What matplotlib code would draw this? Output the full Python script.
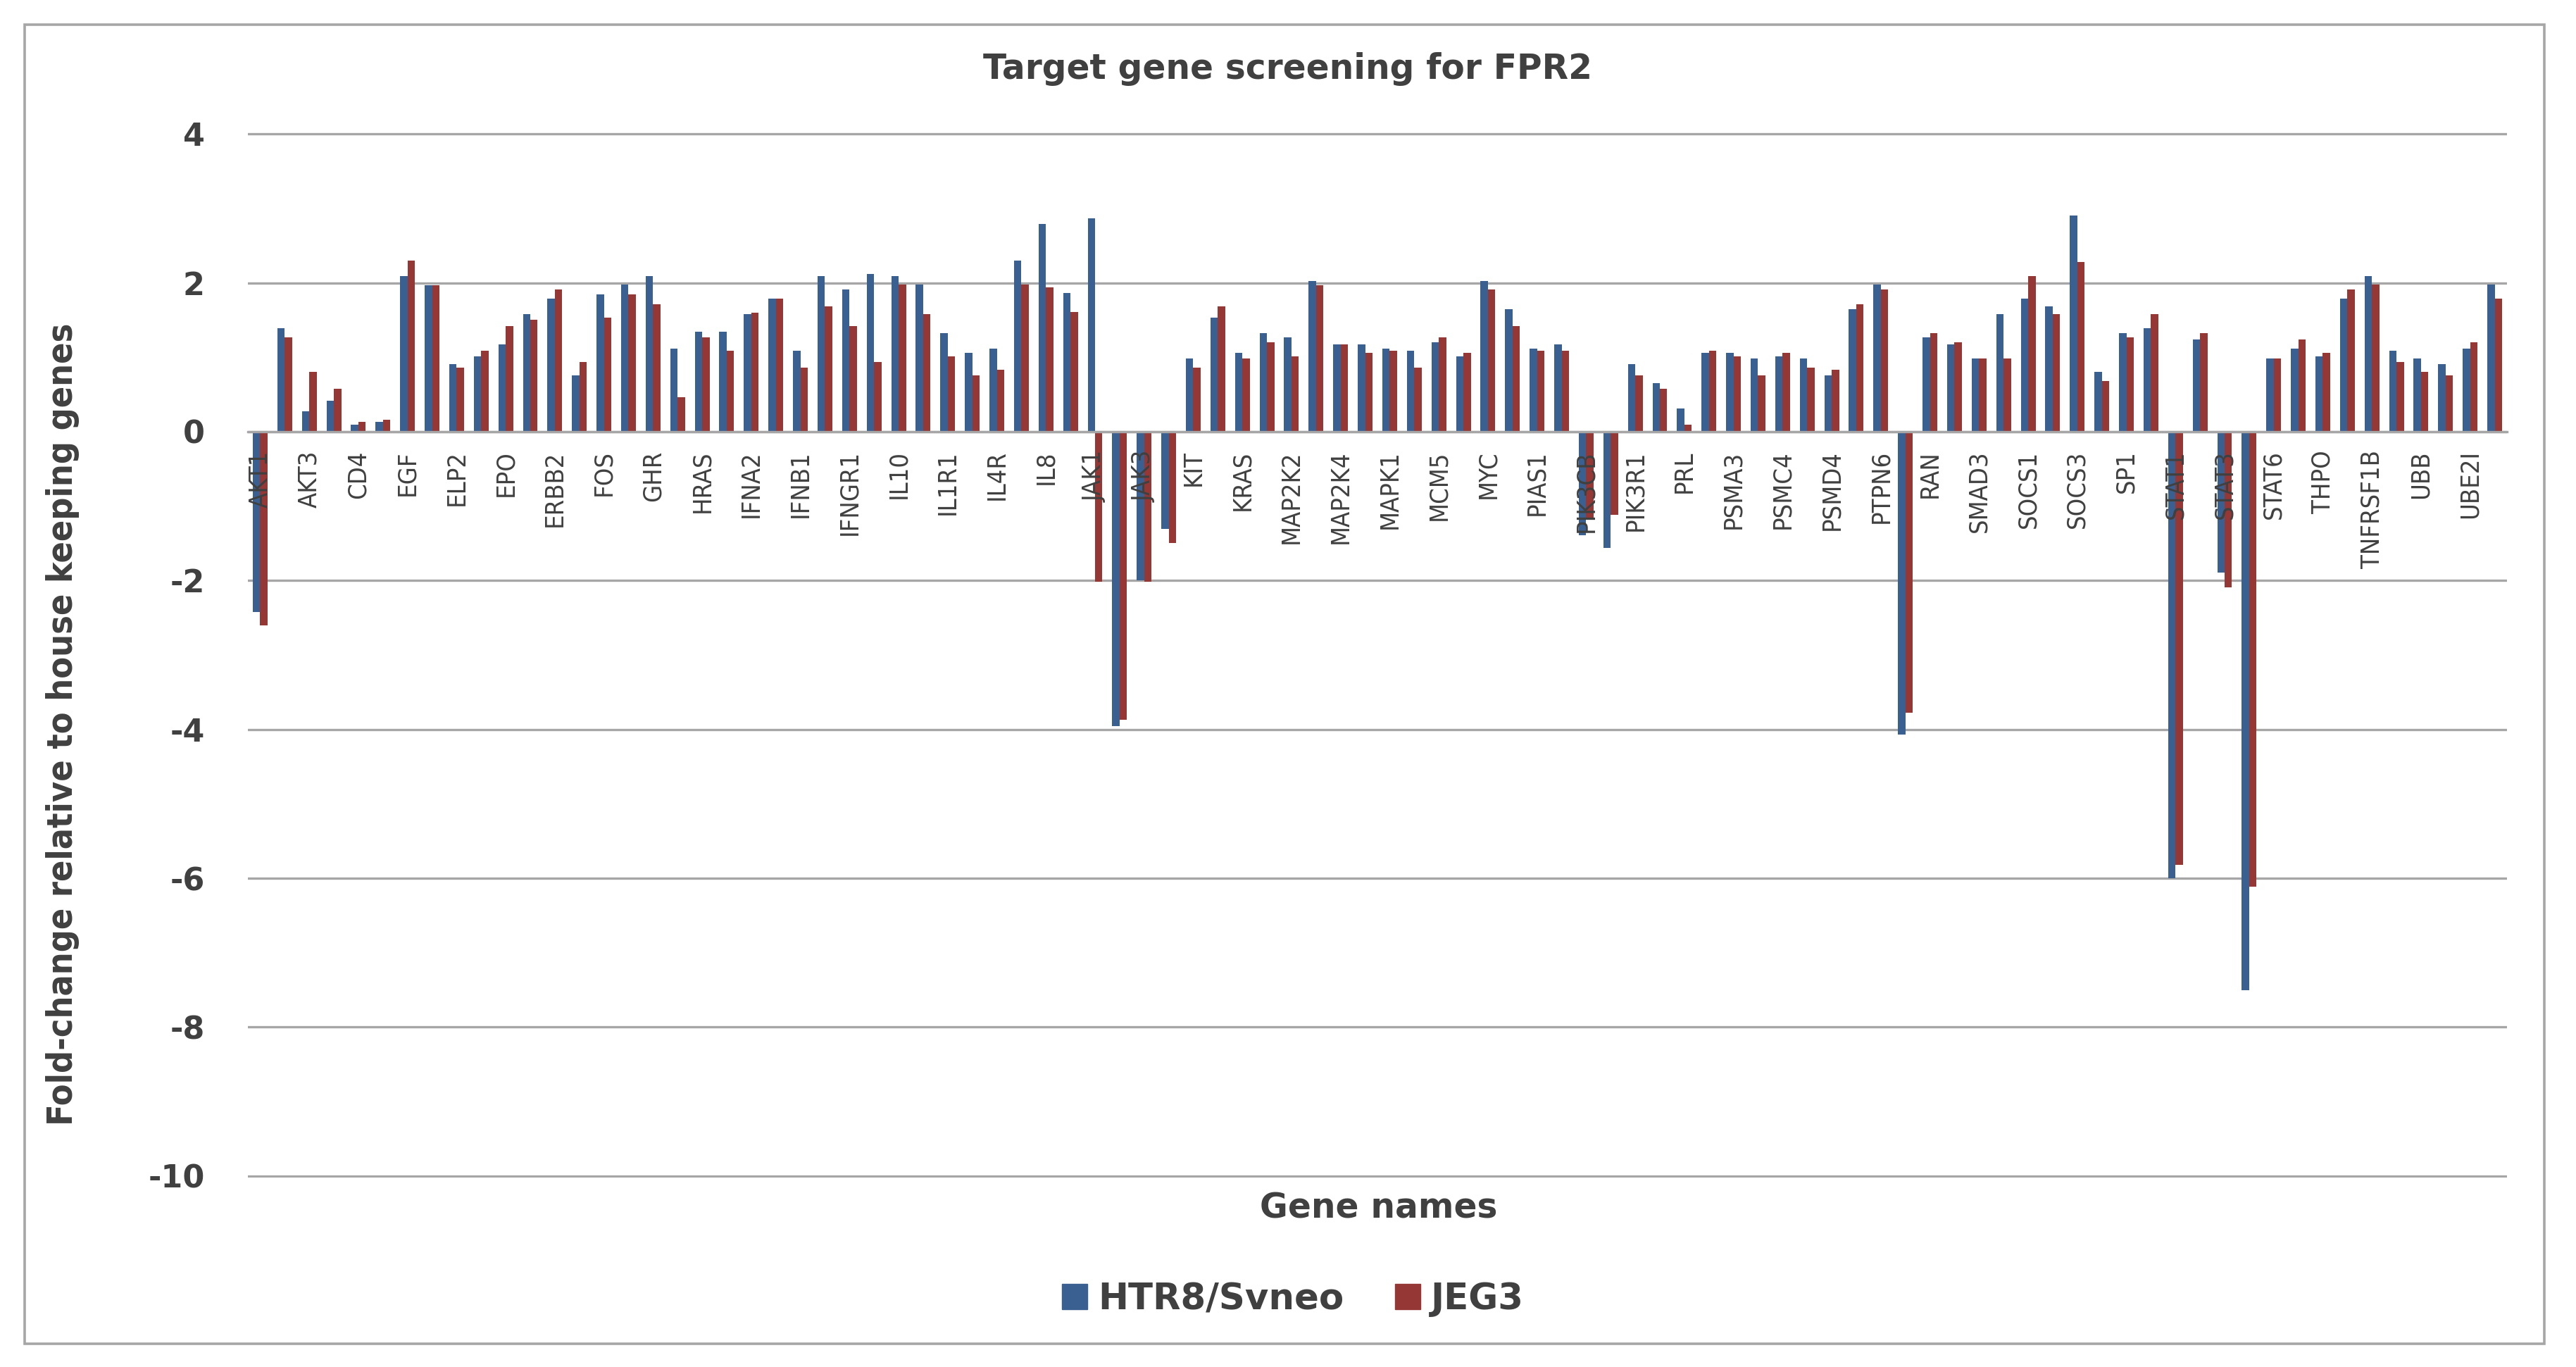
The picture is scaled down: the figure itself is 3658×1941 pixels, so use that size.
import matplotlib
matplotlib.use('Agg')
import matplotlib.pyplot as plt
from matplotlib.patches import Rectangle, Patch
import numpy as np

genes = ['AKT1', 'AKT2', 'AKT3', 'BCL2L1', 'CD4', 'CRKL', 'EGF', 'EGFR', 'ELP2', 'EP300',
         'EPO', 'EPOR', 'ERBB2', 'FGFR1', 'FOS', 'GH1', 'GHR', 'GRB2', 'HRAS', 'IFNA1',
         'IFNA2', 'IFNAR1', 'IFNB1', 'IFNG', 'IFNGR1', 'IFNGR2', 'IL10', 'IL10RA', 'IL1R1', 'IL2RG',
         'IL4R', 'IL6ST', 'IL8', 'IRF1', 'JAK1', 'JAK2', 'JAK3', 'JUNB', 'KIT', 'KITLG',
         'KRAS', 'MAP2K1', 'MAP2K2', 'MAP2K3', 'MAP2K4', 'MAP3K1', 'MAPK1', 'MAPK3', 'MCM5', 'MPL',
         'MYC', 'NFKB1', 'PIAS1', 'PIK3CA', 'PIK3CB', 'PIK3CD', 'PIK3R1', 'PPP2CA', 'PRL', 'PSMA1',
         'PSMA3', 'PSMB5', 'PSMC4', 'PSMD2', 'PSMD4', 'PTPN11', 'PTPN6', 'PTPRC', 'RAN', 'SH2B1',
         'SMAD3', 'SMAD4', 'SOCS1', 'SOCS2', 'SOCS3', 'SOCS4', 'SP1', 'SRC', 'STAT1', 'STAT2',
         'STAT3', 'STAT5A', 'STAT6', 'TGFB1', 'THPO', 'TNFRSF1A', 'TNFRSF1B', 'TYK2', 'UBB', 'UBC',
         'UBE2I', 'YWHAZ']

htr8 = [-2.42, 1.39, 0.27, 0.42, 0.09, 0.13, 2.09, 1.97, 0.91, 1.01,
        1.17, 1.58, 1.79, 0.76, 1.84, 1.98, 2.09, 1.12, 1.34, 1.34,
        1.58, 1.79, 1.09, 2.09, 1.91, 2.12, 2.09, 1.98, 1.32, 1.06,
        1.12, 2.30, 2.79, 1.86, 2.87, -3.96, -2.00, -1.31, 0.98, 1.53,
        1.06, 1.32, 1.27, 2.02, 1.17, 1.17, 1.12, 1.09, 1.20, 1.01,
        2.02, 1.65, 1.12, 1.17, -1.39, -1.56, 0.91, 0.65, 0.31, 1.06,
        1.06, 0.98, 1.01, 0.98, 0.76, 1.65, 1.98, -4.07, 1.27, 1.17,
        0.98, 1.58, 1.79, 1.68, 2.90, 0.80, 1.32, 1.39, -6.00, 1.24,
        -1.89, -7.50, 0.98, 1.12, 1.01, 1.79, 2.09, 1.09, 0.98, 0.91,
        1.12, 1.98]

jeg3 = [-2.60, 1.27, 0.80, 0.58, 0.13, 0.16, 2.30, 1.97, 0.86, 1.09,
        1.42, 1.50, 1.91, 0.94, 1.53, 1.84, 1.71, 0.46, 1.27, 1.09,
        1.60, 1.79, 0.86, 1.68, 1.42, 0.94, 1.98, 1.58, 1.01, 0.76,
        0.83, 1.98, 1.94, 1.61, -2.02, -3.87, -2.02, -1.50, 0.86, 1.68,
        0.98, 1.20, 1.01, 1.97, 1.17, 1.06, 1.09, 0.86, 1.27, 1.06,
        1.91, 1.42, 1.09, 1.09, -1.17, -1.12, 0.76, 0.58, 0.09, 1.09,
        1.01, 0.76, 1.06, 0.86, 0.83, 1.71, 1.91, -3.78, 1.32, 1.20,
        0.98, 0.98, 2.09, 1.58, 2.28, 0.68, 1.27, 1.58, -5.82, 1.32,
        -2.09, -6.11, 0.98, 1.24, 1.06, 1.91, 1.98, 0.94, 0.80, 0.76,
        1.20, 1.79]

series_names = ['HTR8/Svneo', 'JEG3']
yticks = [4, 2, 0, -2, -4, -6, -8, -10]

blue  = '#3A5F91'
red   = '#953735'
grey  = '#A6A6A6'
text  = '#404040'

W, H = 3658, 1941
###############################################################################
# Figure
###############################################################################
fig = plt.figure(figsize=(W/100, H/100), dpi=100)
ax = fig.add_axes([352/W, 1-1672/H, 3208/W, 1484/H])

# gridlines under the bars
for t in yticks:
    ax.axhline(t, color=grey, lw=2.4, zorder=1)

x = np.arange(len(genes))
w = 0.3
ax.bar(x - w/2, htr8, w, color=blue, zorder=2)
ax.bar(x + w/2, jeg3, w, color=red, zorder=2)

ax.set_xlim(-0.5, len(genes) - 0.5)
ax.set_ylim(-10.02, 4.02)
ax.set_yticks(yticks)
ax.set_yticklabels([str(t) for t in yticks], fontsize=32, fontweight='bold', color=text)

for s in ['left', 'right', 'top']:
    ax.spines[s].set_visible(False)
ax.spines['bottom'].set_position(('data', 0))
ax.spines['bottom'].set_color(grey)
ax.spines['bottom'].set_linewidth(2.4)
ax.spines['bottom'].set_zorder(4)

ax.set_xticks(x[::2])
ax.set_xticklabels(genes[::2], rotation=90, fontsize=26, color=text,
                   fontstretch='condensed')
ax.tick_params(axis='x', length=0, pad=19)
ax.tick_params(axis='y', length=0, pad=44)
# gene labels are written over the negative bars, as in Excel
ax.xaxis.set_zorder(5)

###############################################################################
# Texts
###############################################################################
fig.text(0.5, 1-98/H, 'Target gene screening for FPR2', ha='center', va='center',
         fontsize=35, fontweight='bold', color=text)
fig.text(1958/W, 1-1715/H, 'Gene names', ha='center', va='center',
         fontsize=35, fontweight='bold', color=text)
fig.text(89/W, 1-1028/H, 'Fold-change relative to house keeping genes', rotation=90,
         ha='center', va='center', fontsize=36, fontweight='bold', color=text,
         fontstretch='condensed')

handles = [Patch(color=blue, label=series_names[0]), Patch(color=red, label=series_names[1])]
fig.legend(handles=handles, loc='center', bbox_to_anchor=(1836/W, 1-1845/H), ncol=2,
           frameon=False, handlelength=0.7, handleheight=0.7, handletextpad=0.3,
           columnspacing=1.4, prop={'size': 37, 'weight': 'bold'}, labelcolor=text)

fig.patches.append(Rectangle((35/W, 1-1908/H), (3613-35)/W, (1908-35)/H,
                             transform=fig.transFigure, fill=False, ec=grey, lw=2.6))

fig.savefig('out.png', dpi=100, facecolor='white')
